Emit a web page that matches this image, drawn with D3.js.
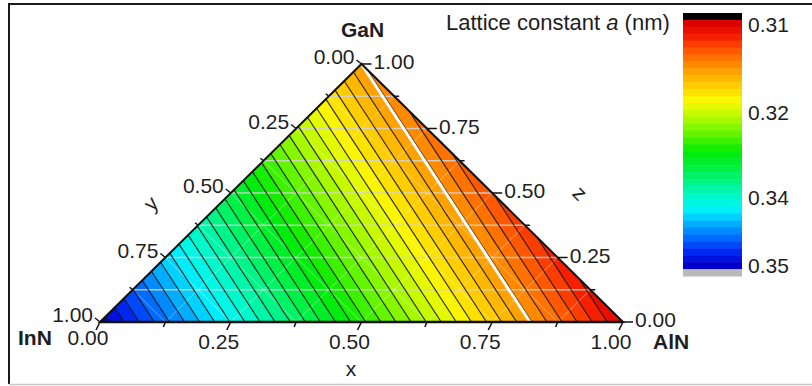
<!DOCTYPE html>
<html>
<head>
<meta charset="utf-8">
<script src="https://cdn.jsdelivr.net/npm/d3@7"></script>
<style>
  body { margin: 0; background: #fff; }
  svg { display: block; }
  text { font-family: "Liberation Sans", Arial, sans-serif; fill: #1e1e1e; }
</style>
</head>
<body>
<svg id="chart" width="812" height="386"></svg>
<script>
// End members of the In(y)Ga(z)Al(x)N alloy and their lattice constant a (nm)
const corners = ["InN", "AlN", "GaN"];
const latticeA = [0.3545, 0.3112, 0.3189];
const [aInN, aAlN, aGaN] = latticeA;

// Filled-contour thresholds (nm)
const levelStart = 0.31;
const levelStep = 0.00125;
const levelCount = 36;
const levels = d3.range(levelCount + 1).map(i => +(levelStart + i * levelStep).toFixed(5));

// Colour ramp: position along the ramp (0 = small a) and colour
const rampStops = [0, 0.05, 0.10, 0.15, 0.21, 0.27, 0.32, 0.38, 0.45, 0.53, 0.60, 0.67, 0.73, 0.78, 0.84, 0.90, 0.95, 1];
const rampColors = ["#dc0000", "#f51900", "#ff4b00", "#ff7800", "#ffaa00", "#ffd700", "#fafa00", "#befa00",
                    "#6ef500", "#00eb00", "#00f046", "#00f596", "#00fadc", "#00ebff", "#00a0ff", "#005aff",
                    "#001ef0", "#0000c8"];
const overColor = "#000000", underColor = "#b9b9b9";

// Axis ticks
const axisTicks = [0, 0.25, 0.5, 0.75, 1];
const minorTicks = [0.125, 0.375, 0.625, 0.875];
const gridSteps = [0.125, 0.25, 0.375, 0.5, 0.625, 0.75, 0.875];

// Colour bar labels
const barTicks = [0.31, 0.32, 0.34, 0.35];
const barTitle = ["Lattice constant ", "a", " (nm)"];

const svg = d3.select("#chart");

// Frame
svg.append("path").attr("d", "M9,384 V4 H812").attr("fill", "none").attr("stroke", "#1a1a1a").attr("stroke-width", 2);
svg.append("line").attr("x1", 9).attr("x2", 812).attr("y1", 384.5).attr("y2", 384.5)
  .attr("stroke", "#c8c8c8").attr("stroke-width", 1.5);

// Ternary coordinates: x = AlN fraction, z = GaN fraction, y = 1 - x - z (InN)
const sx = d3.scaleLinear().domain([0, 1]).range([100, 623]);
const sz = d3.scaleLinear().domain([0, 1]).range([322, 64]);
const P = (x, z) => [sx(x + z / 2), sz(z)];
const aAt = ([x, z]) => aInN + x * (aAlN - aInN) + z * (aGaN - aInN);

const ramp = d3.scaleLinear().domain(rampStops).range(rampColors).interpolate(d3.interpolateRgb);
const bandColor = k => ramp(k / (levelCount - 1));

const tri = [[0, 0], [1, 0], [0, 1]];
const edges = [[tri[0], tri[1]], [tri[1], tri[2]], [tri[2], tri[0]]];

// Keep the part of a polygon where f >= 0
function clipPoly(poly, f) {
  const out = [];
  for (let i = 0; i < poly.length; i++) {
    const p = poly[i], q = poly[(i + 1) % poly.length];
    const fp = f(p), fq = f(q);
    if (fp >= 0) out.push(p);
    if ((fp >= 0) !== (fq >= 0)) {
      const t = fp / (fp - fq);
      out.push([p[0] + t * (q[0] - p[0]), p[1] + t * (q[1] - p[1])]);
    }
  }
  return out;
}

// Segment of the iso-line a = L inside the triangle
function isoSegment(L) {
  const pts = [];
  edges.forEach(([p, q]) => {
    const fp = aAt(p) - L, fq = aAt(q) - L;
    if ((fp < 0) !== (fq < 0)) {
      const t = fp / (fp - fq);
      pts.push([p[0] + t * (q[0] - p[0]), p[1] + t * (q[1] - p[1])]);
    }
  });
  return pts;
}

const line = d3.line().x(d => P(d[0], d[1])[0]).y(d => P(d[0], d[1])[1]);
const plot = svg.append("g");

// Filled bands
d3.range(levelCount).forEach(k => {
  const lo = levels[k], hi = levels[k + 1];
  let poly = clipPoly(tri, p => aAt(p) - lo);
  poly = clipPoly(poly, p => hi - aAt(p));
  if (poly.length >= 3) {
    plot.append("path").attr("d", line(poly) + "Z")
      .attr("fill", bandColor(k)).attr("stroke", bandColor(k)).attr("stroke-width", 0.6);
  }
});

// Grid: constant GaN (horizontal), faint constant AlN and InN lines
const grid = plot.append("g");
gridSteps.forEach(v => {
  grid.append("path").attr("d", line([[0, v], [1 - v, v]]))
    .attr("stroke", "#d2d2d2").attr("stroke-opacity", 0.85).attr("stroke-width", 1.6);
  grid.append("path").attr("d", line([[v, 0], [v, 1 - v]]))
    .attr("stroke", "#ffffff").attr("stroke-opacity", 0.22).attr("stroke-width", 1.4);
  grid.append("path").attr("d", line([[1 - v, 0], [0, 1 - v]]))
    .attr("stroke", "#ffffff").attr("stroke-opacity", 0.22).attr("stroke-width", 1.4);
});

// Contour lines
levels.forEach(L => {
  const seg = isoSegment(L);
  if (seg.length === 2) {
    plot.append("path").attr("d", line(seg))
      .attr("stroke", "#141414").attr("stroke-width", 1.15).attr("stroke-opacity", 0.9);
  }
});

// Iso-lattice line of GaN
plot.append("path").attr("d", line(isoSegment(aGaN - 1e-9)))
  .attr("stroke", "#ffffff").attr("stroke-width", 3);

// Triangle outline
plot.append("path").attr("d", line(tri) + "Z")
  .attr("fill", "none").attr("stroke", "#111").attr("stroke-width", 2).attr("stroke-linejoin", "miter");
plot.append("path").attr("d", line([tri[0], tri[1]]))
  .attr("stroke", "#111").attr("stroke-width", 2.6);

// Ticks and tick labels
const fmt = d3.format(".2f");
const ticks = svg.append("g").attr("stroke", "#111").attr("stroke-width", 1.5);
const labels = svg.append("g").attr("font-size", 21);

// bottom axis: x (AlN)
axisTicks.forEach(v => {
  const [px, py] = P(v, 0);
  ticks.append("line").attr("x1", px).attr("y1", py).attr("x2", px - 4).attr("y2", py + 8);
  labels.append("text").attr("x", px - 12).attr("y", v === 0 ? 345 : 349)
    .attr("text-anchor", "middle").text(fmt(v));
});
minorTicks.forEach(v => {
  const [px, py] = P(v, 0);
  ticks.append("line").attr("x1", px).attr("y1", py).attr("x2", px - 2).attr("y2", py + 5);
});

// left axis: y (InN), 0 at the apex
axisTicks.forEach(v => {
  const [px, py] = P(0, 1 - v);
  ticks.append("line").attr("x1", px).attr("y1", py).attr("x2", px - 5).attr("y2", py - 4);
  labels.append("text").attr("x", px - 7).attr("y", py - 7).attr("dy", "0.35em")
    .attr("text-anchor", "end").text(fmt(v));
});
minorTicks.forEach(v => {
  const [px, py] = P(0, 1 - v);
  ticks.append("line").attr("x1", px).attr("y1", py).attr("x2", px - 3).attr("y2", py - 2.5);
});

// right axis: z (GaN)
axisTicks.forEach(v => {
  const [px, py] = P(1 - v, v);
  ticks.append("line").attr("x1", px).attr("y1", py).attr("x2", px + 10).attr("y2", py);
  labels.append("text").attr("x", px + 12).attr("y", py - 2).attr("dy", "0.35em")
    .attr("text-anchor", "start").text(fmt(v));
});
minorTicks.forEach(v => {
  const [px, py] = P(1 - v, v);
  ticks.append("line").attr("x1", px).attr("y1", py).attr("x2", px + 5).attr("y2", py);
});

// Corner names and axis names
const [ix, iy] = P(0, 0), [ax, ay] = P(1, 0), [gx, gy] = P(0, 1);
labels.append("text").attr("x", gx + 1).attr("y", gy - 27).attr("text-anchor", "middle")
  .attr("font-weight", "bold").text(corners[2]);
labels.append("text").attr("x", ix - 82).attr("y", iy + 23).attr("text-anchor", "start")
  .attr("font-weight", "bold").text(corners[0]);
labels.append("text").attr("x", ax + 30).attr("y", ay + 27).attr("text-anchor", "start")
  .attr("font-weight", "bold").text(corners[1]);

labels.append("text").attr("x", sx(0.48)).attr("y", 376).attr("text-anchor", "middle").text("x");
labels.append("text").attr("text-anchor", "middle")
  .attr("transform", `translate(${sx(0.097)},${sz(0.46)}) rotate(-45)`).attr("dy", "0.35em").text("y");
labels.append("text").attr("text-anchor", "middle")
  .attr("transform", `translate(${sx(0.918)},${sz(0.5)}) rotate(45)`).attr("dy", "0.35em").text("z");

// Colour bar: over-range, bands from small to large a, under-range
const slots = [overColor].concat(d3.range(levelCount).map(bandColor), [underColor]);
const cb = d3.scaleBand().domain(d3.range(slots.length)).range([13, 276]).paddingInner(0);
svg.append("g").selectAll("rect").data(slots).join("rect")
  .attr("x", 683).attr("width", 59)
  .attr("y", (d, i) => cb(i)).attr("height", cb.bandwidth() + 0.5)
  .attr("fill", d => d);

const cbLabel = d3.scaleLinear().domain(barTicks).range([25, 113, 198, 266]);
svg.append("g").attr("font-size", 21).selectAll("text").data(barTicks).join("text")
  .attr("x", 748).attr("y", d => cbLabel(d)).attr("dy", "0.35em").text(d => d3.format(".2f")(d));

const title = svg.append("text").attr("x", 446).attr("y", 30).attr("font-size", 22);
title.append("tspan").text(barTitle[0]);
title.append("tspan").attr("font-style", "italic").text(barTitle[1]);
title.append("tspan").text(barTitle[2]);
</script>
</body>
</html>
